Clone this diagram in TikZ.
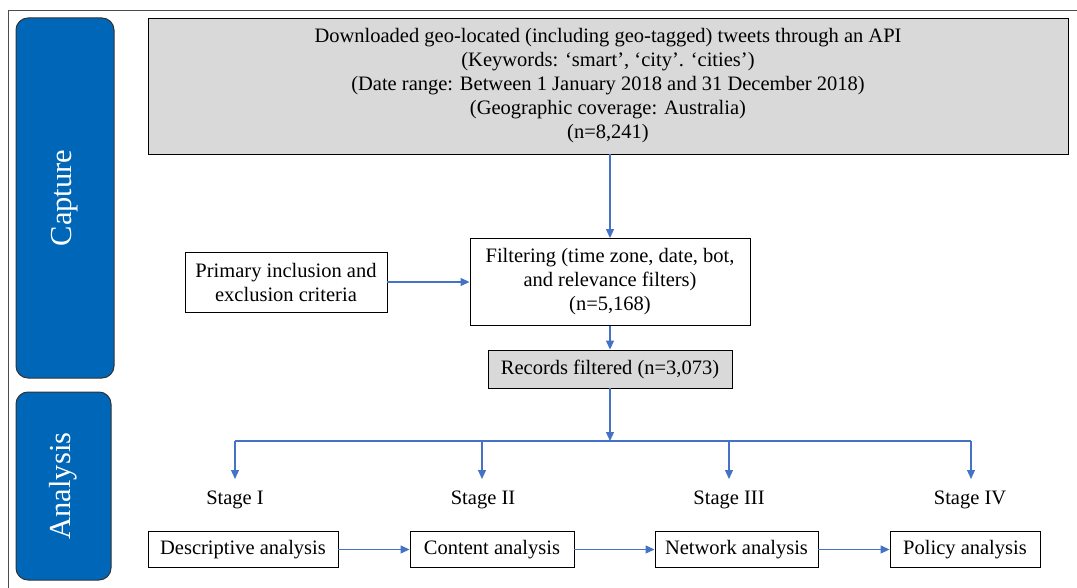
\documentclass[tikz,border=0pt]{standalone}
\usepackage{fontspec}
\setmainfont{Liberation Serif}
\usetikzlibrary{arrows.meta}
\definecolor{sideblue}{HTML}{0066B8}
\definecolor{arrowblue}{HTML}{4472C4}
\definecolor{boxgray}{HTML}{D9D9D9}
\tikzset{
  px/.style={x=1pt,y=-1pt},
  sidebox/.style={draw=black!80, line width=1pt, fill=sideblue, rounded corners=12pt},
  sidetext/.style={text=white, rotate=90, font=\fontsize{30.5}{33}\selectfont},
  flowbox/.style={draw=black, line width=0.9pt, align=center, font=\fontsize{20.5}{24}\selectfont, inner sep=0pt},
  graybox/.style={flowbox, fill=boxgray},
  conn/.style={draw=arrowblue, line width=1.2pt, -{Triangle[length=9pt,width=8pt]}},
  plain/.style={draw=arrowblue, line width=1.2pt},
  stagelabel/.style={font=\fontsize{20.5}{24}\selectfont}
}
\begin{document}
\begin{tikzpicture}[px]
\useasboundingbox (0,0) rectangle (1077,588);
% frame
\draw[black!70, line width=0.8pt] (8,600) -- (8,10) -- (1090,10);
% side labels
\draw[sidebox] (16,18) rectangle (114,378);
\node[sidetext] (capture) at (65,198) {Capture};
\draw[sidebox] (16,392) rectangle (111,580);
\node[sidetext] (analysis) at (63.5,486) {Analysis};
% top box
\node[graybox, minimum width=920pt, minimum height=136pt] (top) at (608,86)
 {Downloaded geo-located (including geo-tagged) tweets through an API\\
  (Keywords: ‘smart’, ‘city’. ‘cities’)\\
  (Date range: Between 1 January 2018 and 31 December 2018)\\
  (Geographic coverage: Australia)\\
  (n=8,241)};
\node[flowbox, minimum width=280pt, minimum height=87pt] (filter) at (610,282)
 {Filtering (time zone, date, bot,\\ and relevance filters)\\ (n=5,168)};
\node[flowbox, minimum width=202pt, minimum height=60pt] (primary) at (286,282)
 {Primary inclusion and\\ exclusion criteria};
\node[graybox, minimum width=244pt, minimum height=38pt] (records) at (610,369)
 {Records filtered (n=3,073)};
\coordinate (hub) at (610,441);
\coordinate (h1) at (235,441);
\coordinate (h4) at (971,441);
\coordinate (h2) at (482,441);
\coordinate (h3) at (729,441);
\node[stagelabel] (s1) at (235,500) {Stage I};
\node[stagelabel] (s2) at (483,500) {Stage II};
\node[stagelabel] (s3) at (729,500) {Stage III};
\node[stagelabel] (s4) at (970,500) {Stage IV};
\node[flowbox, minimum width=190pt, minimum height=36pt] (desc) at (243,549.5) {Descriptive analysis};
\node[flowbox, minimum width=164pt, minimum height=36pt] (cont) at (492,549.5) {Content analysis};
\node[flowbox, minimum width=163pt, minimum height=36pt] (netw) at (736.5,549.5) {Network analysis};
\node[flowbox, minimum width=150pt, minimum height=36pt] (poli) at (965,549.5) {Policy analysis};
% connectors
\draw[conn] (top.south -| filter.north) -- (filter.north);
\draw[conn] (primary.east) -- (filter.west);
\draw[conn] (filter.south) -- (records.north);
\draw[conn] (records.south) -- (hub);
\draw[plain] (h1) -- (h4);
\draw[conn] (h1) -- ++(0,38);
\draw[conn] (h2) -- ++(0,38);
\draw[conn] (h3) -- ++(0,38);
\draw[conn] (h4) -- ++(0,38);
\draw[conn] (desc.east) -- (cont.west);
\draw[conn] (cont.east) -- (netw.west);
\draw[conn] (netw.east) -- (poli.west);
\end{tikzpicture}
\end{document}
